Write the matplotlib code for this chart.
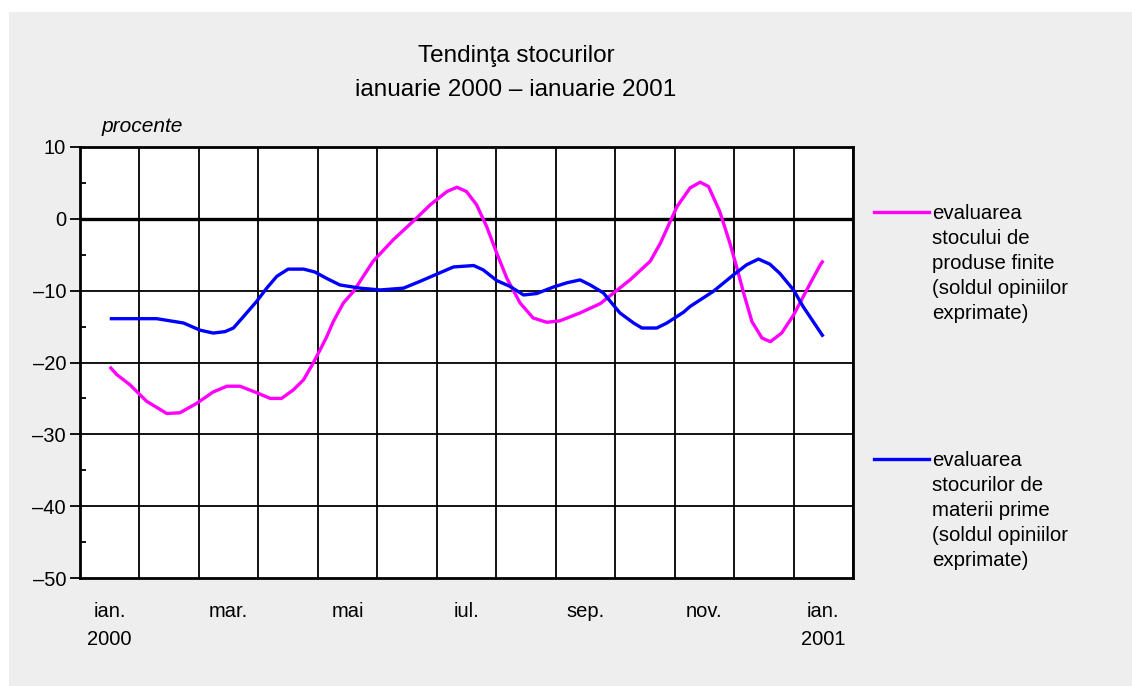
import matplotlib
matplotlib.use("Agg")
import matplotlib.pyplot as plt
from matplotlib.lines import Line2D
from matplotlib.patches import Rectangle
from matplotlib.ticker import MultipleLocator

plt.rcParams['font.family'] = ['Liberation Sans', 'DejaVu Sans']

# ---- data (month index: 0 = ian. 2000, 12 = ian. 2001) ----
month_labels = ["ian.\n2000", "mar.", "mai", "iul.", "sep.", "nov.", "ian.\n2001"]
month_label_pos = [0, 2, 4, 6, 8, 10, 12]
y_ticks = [-50, -40, -30, -20, -10, 0, 10]
y_tick_labels = ["–50", "–40", "–30", "–20", "–10", "0", "10"]

finite_t = [0.00, 0.12, 0.34, 0.62, 0.96, 1.18, 1.46, 1.74, 1.97, 2.19, 2.47, 2.70,
            2.89, 3.09, 3.26, 3.42, 3.54, 3.65, 3.76, 3.93, 4.10, 4.43, 4.77, 5.16,
            5.39, 5.67, 5.84, 6.00, 6.17, 6.34, 6.51, 6.68, 6.90, 7.12, 7.35, 7.57,
            7.91, 8.25, 8.75, 9.09, 9.26, 9.54, 9.76, 9.93, 10.07, 10.26, 10.43,
            10.54, 10.66, 10.80, 10.97, 11.11, 11.30, 11.50, 11.78, 11.95, 12.00]
finite_v = [-20.6, -21.7, -23.1, -25.4, -27.1, -27.0, -25.7, -24.1, -23.3, -23.3,
            -24.2, -25.0, -25.0, -23.8, -22.4, -20.1, -18.2, -16.4, -14.3, -11.7,
            -10.1, -5.9, -2.9, 0.1, 1.95, 3.8, 4.4, 3.8, 1.95, -1.1, -4.8, -8.3,
            -11.7, -13.8, -14.4, -14.2, -13.1, -11.8, -8.5, -5.9, -3.4, 1.7, 4.3,
            5.1, 4.5, 1.0, -3.4, -6.6, -10.3, -14.3, -16.6, -17.1, -15.9, -13.4,
            -9.0, -6.4, -5.8]

raw_t = [0.00, 0.79, 1.24, 1.52, 1.74, 1.94, 2.08, 2.25, 2.47, 2.64, 2.81, 3.00,
         3.26, 3.45, 3.65, 3.87, 4.21, 4.55, 4.94, 5.22, 5.50, 5.78, 6.12, 6.28,
         6.51, 6.73, 6.96, 7.18, 7.46, 7.69, 7.91, 8.08, 8.30, 8.58, 8.81, 8.95,
         9.20, 9.37, 9.65, 9.76, 10.15, 10.49, 10.71, 10.91, 11.10, 11.27, 11.50,
         11.66, 12.00]
raw_v = [-13.9, -13.9, -14.5, -15.5, -15.9, -15.7, -15.2, -13.6, -11.5, -9.65,
         -8.0, -7.0, -7.0, -7.4, -8.3, -9.2, -9.65, -9.9, -9.65, -8.7, -7.7, -6.7,
         -6.5, -7.1, -8.6, -9.4, -10.6, -10.4, -9.5, -8.9, -8.5, -9.2, -10.3,
         -13.1, -14.5, -15.2, -15.2, -14.5, -13.0, -12.2, -10.1, -7.8, -6.4, -5.6,
         -6.3, -7.6, -9.9, -12.2, -16.4]

label_finite = "evaluarea\nstocului de\nproduse finite\n(soldul opiniilor\nexprimate)"
label_raw = "evaluarea\nstocurilor de\nmaterii prime\n(soldul opiniilor\nexprimate)"
title_text = "Tendinţa stocurilor\nianuarie 2000 – ianuarie 2001"

W, H = 1132, 686
fig = plt.figure(figsize=(W / 100, H / 100), dpi=100)
fig.patch.set_facecolor("white")
fig.add_artist(Rectangle((9 / W, 0), 1 - 9 / W, 1 - 12 / H, transform=fig.transFigure,
                         facecolor="#eeeeee", edgecolor="none", zorder=-10))

ax = fig.add_axes([80 / W, 1 - 578 / H, (853 - 80) / W, (578 - 147) / H])
ax.set_facecolor("white")
ax.set_xlim(-0.5, 12.5)
ax.set_ylim(-50, 10)

# grid
for k in range(14):
    ax.axvline(k - 0.5, color="black", lw=1.3, zorder=1)
for yv in y_ticks[1:5]:
    ax.axhline(yv, color="black", lw=1.3, zorder=1)
ax.axhline(0, color="black", lw=2.4, zorder=1)

ax.plot(finite_t, finite_v, color="#ff00ff", lw=2.4, zorder=3, solid_capstyle="butt")
ax.plot(raw_t, raw_v, color="#0000ff", lw=2.4, zorder=3, solid_capstyle="butt")

for s in ax.spines.values():
    s.set_linewidth(2)
    s.set_color("black")

ax.set_yticks(y_ticks)
ax.set_yticklabels(y_tick_labels)
ax.yaxis.set_minor_locator(MultipleLocator(5))
ax.tick_params(axis="y", which="major", direction="out", length=7, width=1.3,
               labelsize=14.5, pad=3, colors="black")
ax.tick_params(axis="y", which="minor", direction="in", length=4, width=1.3)

ax.set_xticks(month_label_pos)
ax.set_xticklabels(month_labels, fontsize=14.5, linespacing=1.6)
ax.tick_params(axis="x", length=0, pad=17)

fig.text(516 / W, 1 - 73 / H, title_text, ha="center", va="center", fontsize=17.5,
         linespacing=1.7)
fig.text(102 / W, 1 - 126 / H, "procente", ha="left", va="center", fontsize=15,
         style="italic")

# legend
for y_px, col, txt in [(212, "#ff00ff", label_finite), (459, "#0000ff", label_raw)]:
    fig.add_artist(Line2D([874 / W, 929 / W], [1 - y_px / H, 1 - y_px / H],
                          transform=fig.transFigure, color=col, lw=2.4))
    fig.text(932 / W, 1 - (y_px - 8) / H, txt, ha="left", va="top", fontsize=14.7,
             linespacing=1.4)

fig.savefig("out.png", dpi=100, facecolor=fig.get_facecolor())
